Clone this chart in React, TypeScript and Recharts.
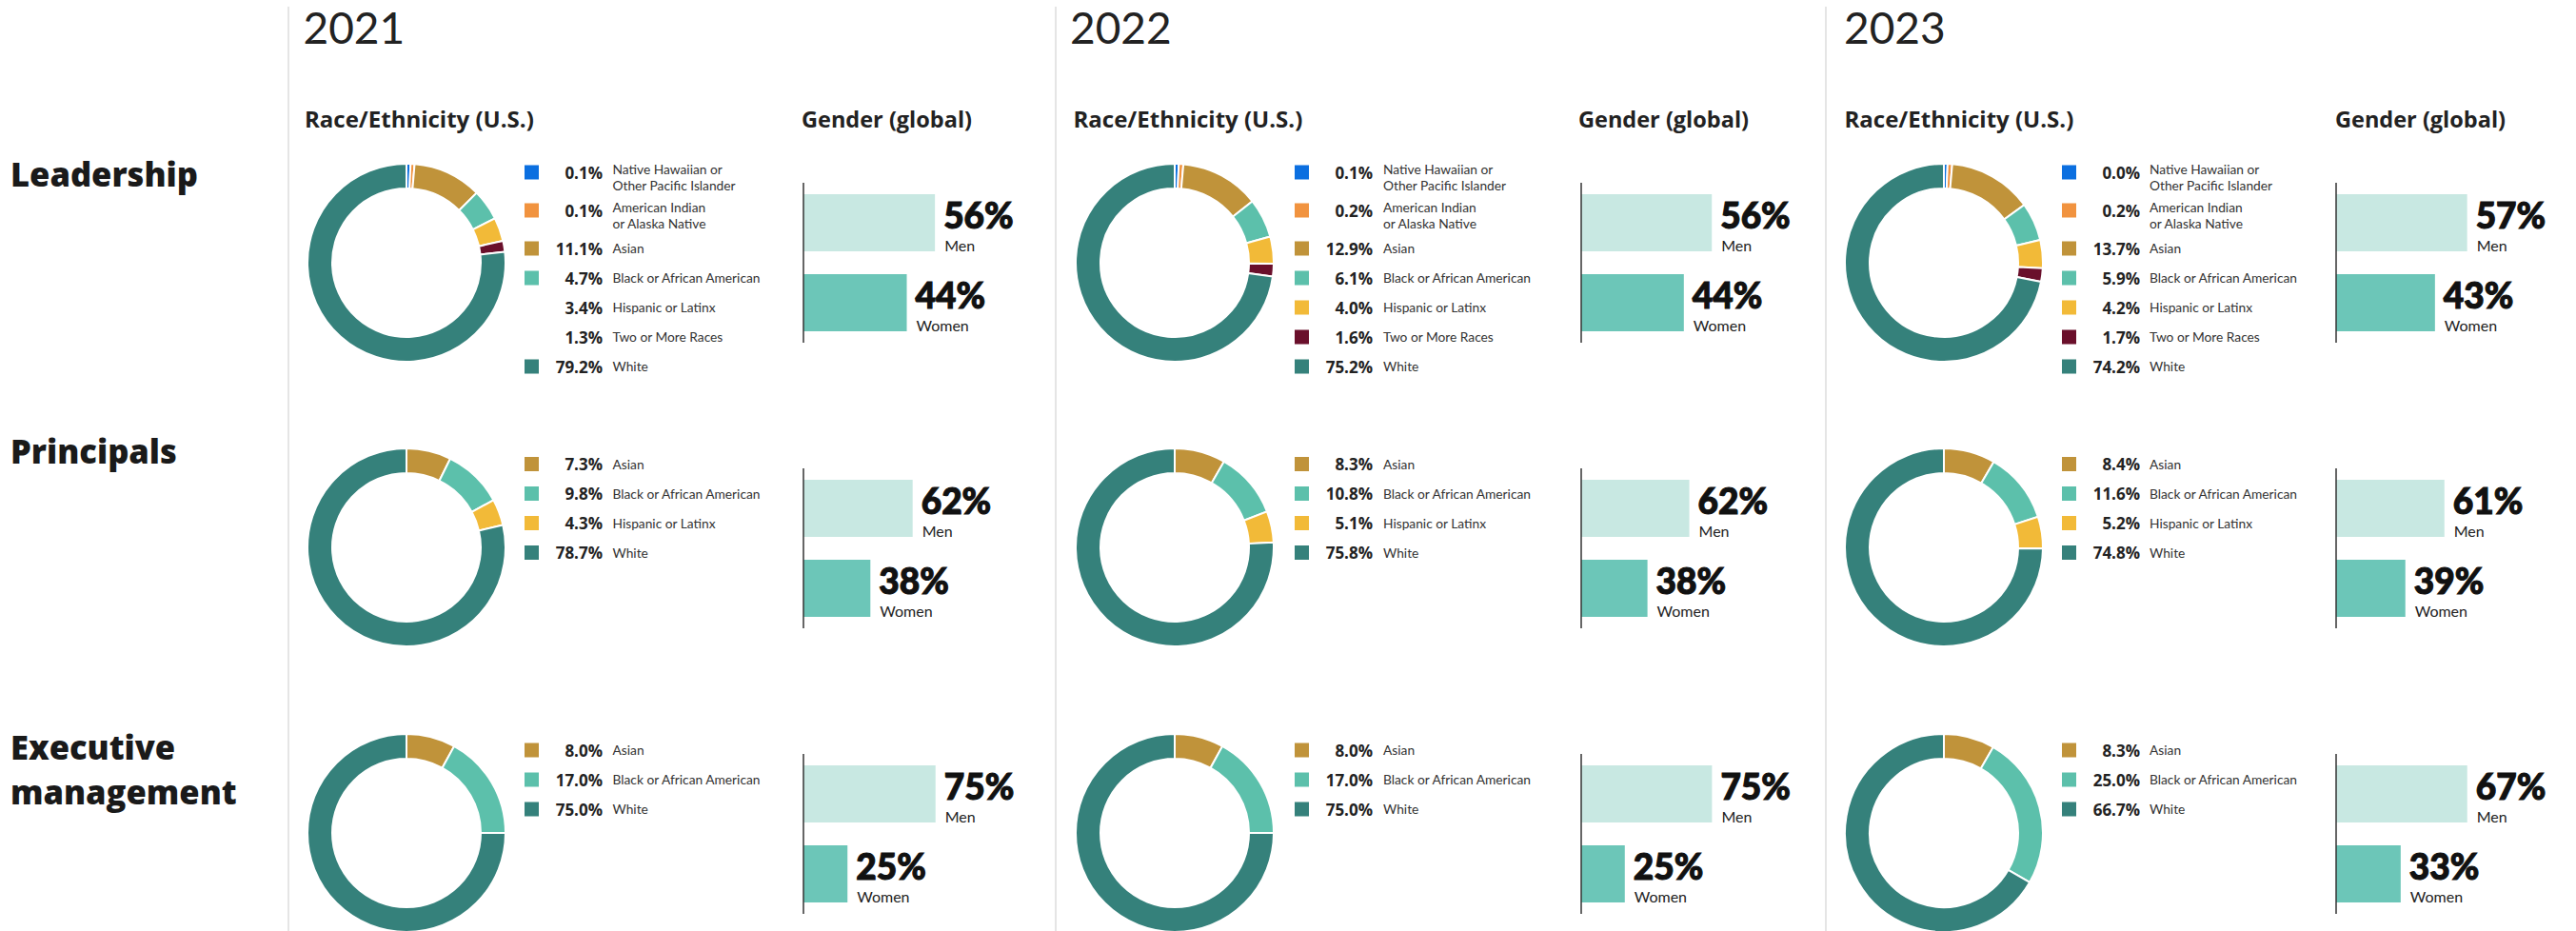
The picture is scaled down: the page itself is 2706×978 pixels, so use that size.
import React from 'react';
import { PieChart, Pie, Cell, BarChart, Bar, XAxis, YAxis, LabelList } from 'recharts';

// ---------- DATA ----------
const years = ['2021', '2022', '2023'];
const groups = ['Leadership', 'Principals', 'Executive management'];
const groupLabelLines = [['Leadership'], ['Principals'], ['Executive', 'management']];

const raceCategories = [
  'Native Hawaiian or Other Pacific Islander',
  'American Indian or Alaska Native',
  'Asian',
  'Black or African American',
  'Hispanic or Latinx',
  'Two or More Races',
  'White',
];
const raceLabelLines = [
  ['Native Hawaiian or', 'Other Pacific Islander'],
  ['American Indian', 'or Alaska Native'],
  ['Asian'],
  ['Black or African American'],
  ['Hispanic or Latinx'],
  ['Two or More Races'],
  ['White'],
];

// race values (%), null = category not reported for that group
const leadership2021 = [0.1, 0.1, 11.1, 4.7, 3.4, 1.3, 79.2];
const principals2021 = [null, null, 7.3, 9.8, 4.3, null, 78.7];
const executive2021 = [null, null, 8.0, 17.0, null, null, 75.0];

const leadership2022 = [0.1, 0.2, 12.9, 6.1, 4.0, 1.6, 75.2];
const principals2022 = [null, null, 8.3, 10.8, 5.1, null, 75.8];
const executive2022 = [null, null, 8.0, 17.0, null, null, 75.0];

const leadership2023 = [0.04, 0.2, 13.7, 5.9, 4.2, 1.7, 74.2];
const principals2023 = [null, null, 8.4, 11.6, 5.2, null, 74.8];
const executive2023 = [null, null, 8.3, 25.0, null, null, 66.7];

const raceByYear = [
  [leadership2021, principals2021, executive2021],
  [leadership2022, principals2022, executive2022],
  [leadership2023, principals2023, executive2023],
];

// gender (%), per group: Leadership, Principals, Executive management
const genderLabels = ['Men', 'Women'];
const men2021 = [56, 62, 75];
const women2021 = [44, 38, 25];
const men2022 = [56, 62, 75];
const women2022 = [44, 38, 25];
const men2023 = [57, 61, 67];
const women2023 = [43, 39, 33];
const menByYear = [men2021, men2022, men2023];
const womenByYear = [women2021, women2022, women2023];

// each gender chart in the original uses its own x-scale maximum
const genderScaleMax2021 = [75, 100, 100];
const genderScaleMax2022 = [75.5, 101, 101];
const genderScaleMax2023 = [76.6, 99.2, 90];
const genderScaleMaxByYear = [genderScaleMax2021, genderScaleMax2022, genderScaleMax2023];

// ---------- STYLE / LAYOUT ----------
const FONT = '"Open Sans", "Noto Sans", sans-serif';
const LATO = 'Lato, "Open Sans", sans-serif';
const RACE_COLORS = ['#0B6FE0', '#F1933F', '#C0933A', '#5CC0AB', '#F2BA38', '#6A0F2B', '#35817B'];
const GENDER_COLORS = ['#C8E8E2', '#6CC6B8'];
// legend swatches that are absent in the original (year index, group index, category index)
const MISSING_SWATCHES = ['0-0-4', '0-0-5'];

const COLS = [
  { divider: 303, year: 318.5, race: 320, gender: 842, donutCx: 426.5, swatch: 551, pctRight: 633, labelX: 643.5, axis: 844.3 },
  { divider: 1109, year: 1124, race: 1127.5, gender: 1658, donutCx: 1234, swatch: 1360, pctRight: 1442, labelX: 1453, axis: 1660.7 },
  { divider: 1918, year: 1937, race: 1937.5, gender: 2453, donutCx: 2042, swatch: 2166, pctRight: 2248, labelX: 2258, axis: 2454.3 },
];
const ROWS = [
  { labelBaseline: 196, donutCy: 275.5, legendY: 181, barTop: 192 },
  { labelBaseline: 487, donutCy: 574.5, legendY: 487.5, barTop: 491.5 },
  { labelBaseline: 798, donutCy: 874.5, legendY: 788, barTop: 792 },
];

const PIE_SIZE = 212;
const BAR_W = 320;
const BAR_H = 168;
const PLOT_W = 185;
const AXIS_W = 2;

function Donut({ yi, gi }: { yi: number; gi: number }) {
  const vals = raceByYear[yi][gi];
  const data = raceCategories
    .map((c, i) => ({ name: c, value: vals[i], color: RACE_COLORS[i] }))
    .filter((d) => d.value !== null);
  const col = COLS[yi];
  const row = ROWS[gi];
  return (
    <div style={{ position: 'absolute', left: col.donutCx - PIE_SIZE / 2, top: row.donutCy - PIE_SIZE / 2 }}>
      <PieChart width={PIE_SIZE} height={PIE_SIZE} margin={{ top: 0, right: 0, bottom: 0, left: 0 }}>
        <Pie
          data={data}
          dataKey="value"
          nameKey="name"
          cx={PIE_SIZE / 2}
          cy={PIE_SIZE / 2}
          innerRadius={78}
          outerRadius={104}
          startAngle={90}
          endAngle={-270}
          minAngle={2}
          stroke="#ffffff"
          strokeWidth={2}
          isAnimationActive={false}
        >
          {data.map((d, i) => (
            <Cell key={i} fill={d.color} />
          ))}
        </Pie>
      </PieChart>
    </div>
  );
}

function Legend({ yi, gi }: { yi: number; gi: number }) {
  const vals = raceByYear[yi][gi];
  const col = COLS[yi];
  const row = ROWS[gi];
  const items: React.ReactNode[] = [];
  let cy = row.legendY;
  let prevLines = 0;
  raceCategories.forEach((c, i) => {
    const v = vals[i];
    if (v === null) return;
    if (prevLines > 0) cy += 31 + (prevLines - 1) * 9;
    const lines = raceLabelLines[i];
    const hidden = MISSING_SWATCHES.includes(`${yi}-${gi}-${i}`);
    items.push(
      <g key={i}>
        {!hidden && <rect x={col.swatch} y={cy - 7.5} width={15} height={15} fill={RACE_COLORS[i]} />}
        <text x={col.pctRight} y={cy + 6.5} textAnchor="end" fontFamily={FONT} fontWeight={700} fontSize={17} fill="#222">
          {`${v.toFixed(1)}%`}
        </text>
        <text x={col.labelX} y={lines.length > 1 ? cy + 2 : cy + 5} fontFamily={LATO} fontSize={13.75} fill="#333">
          {lines.map((ln, li) => (
            <tspan key={li} x={col.labelX} dy={li === 0 ? 0 : 16.6}>
              {ln}
            </tspan>
          ))}
        </text>
      </g>
    );
    prevLines = lines.length;
  });
  return <g>{items}</g>;
}

function makeBarLabel(data: { name: string; v: number }[]) {
  return function BarLabel(props: any) {
    const { x, y, width, value, index } = props;
    const entry = (typeof index === 'number' && data[index]) || data.find((d) => d.v === value) || data[0];
    const lx = x + width + 9;
    return (
      <g>
        <text
          x={lx}
          y={y + 36}
          fill="#111"
          stroke="#111"
          strokeWidth={1.1}
          fontFamily={LATO}
          fontWeight={900}
          fontSize={37}
        >
          {`${value}%`}
        </text>
        <text x={lx + 1} y={y + 60} fill="#222" fontFamily={LATO} fontWeight={400} fontSize={16}>
          {entry.name}
        </text>
      </g>
    );
  };
}

function GenderBars({ yi, gi }: { yi: number; gi: number }) {
  const data = genderLabels.map((g, i) => ({
    name: g,
    v: i === 0 ? menByYear[yi][gi] : womenByYear[yi][gi],
  }));
  const col = COLS[yi];
  const row = ROWS[gi];
  return (
    <div style={{ position: 'absolute', left: col.axis - AXIS_W, top: row.barTop }}>
      <BarChart
        width={BAR_W}
        height={BAR_H}
        layout="vertical"
        data={data}
        margin={{ top: 0, right: BAR_W - AXIS_W - PLOT_W, bottom: 0, left: 0 }}
      >
        <XAxis type="number" domain={[0, genderScaleMaxByYear[yi][gi]]} hide allowDataOverflow />
        <YAxis
          type="category"
          dataKey="name"
          width={AXIS_W}
          tick={false}
          tickLine={false}
          axisLine={{ stroke: '#333', strokeWidth: 1.5 }}
        />
        <Bar dataKey="v" barSize={60} isAnimationActive={false}>
          {data.map((d, i) => (
            <Cell key={i} fill={GENDER_COLORS[i]} />
          ))}
          <LabelList dataKey="v" content={makeBarLabel(data)} />
        </Bar>
      </BarChart>
    </div>
  );
}

export default function App() {
  return (
    <div
      style={{
        position: 'absolute',
        left: 0,
        top: 0,
        width: 2706,
        height: 978,
        background: '#ffffff',
        overflow: 'hidden',
      }}
    >
      <svg width={2706} height={978} style={{ position: 'absolute', left: 0, top: 0 }}>
        {COLS.map((c, yi) => (
          <g key={yi}>
            <line x1={c.divider} x2={c.divider} y1={7} y2={978} stroke="#dcdcdc" strokeWidth={1.5} />
            <text x={c.year} y={46} fontFamily={LATO} fontWeight={400} fontSize={46} fill="#222">
              {years[yi]}
            </text>
            <text x={c.race} y={134} fontFamily={FONT} fontWeight={700} fontSize={24} fill="#222">
              Race/Ethnicity (U.S.)
            </text>
            <text x={c.gender} y={134} fontFamily={FONT} fontWeight={700} fontSize={23.5} fill="#222">
              Gender (global)
            </text>
          </g>
        ))}
        {groups.map((g, gi) => (
          <text key={gi} x={11} y={ROWS[gi].labelBaseline} fontFamily={FONT} fontWeight={800} fontSize={34.5} fill="#1a1a1a">
            {groupLabelLines[gi].map((ln, li) => (
              <tspan key={li} x={11} dy={li === 0 ? 0 : 47.2}>
                {ln}
              </tspan>
            ))}
          </text>
        ))}
        {years.map((_, yi) => groups.map((_g, gi) => <Legend key={`${yi}-${gi}`} yi={yi} gi={gi} />))}
      </svg>
      {years.map((_, yi) =>
        groups.map((_g, gi) => (
          <React.Fragment key={`${yi}-${gi}`}>
            <Donut yi={yi} gi={gi} />
            <GenderBars yi={yi} gi={gi} />
          </React.Fragment>
        ))
      )}
    </div>
  );
}
